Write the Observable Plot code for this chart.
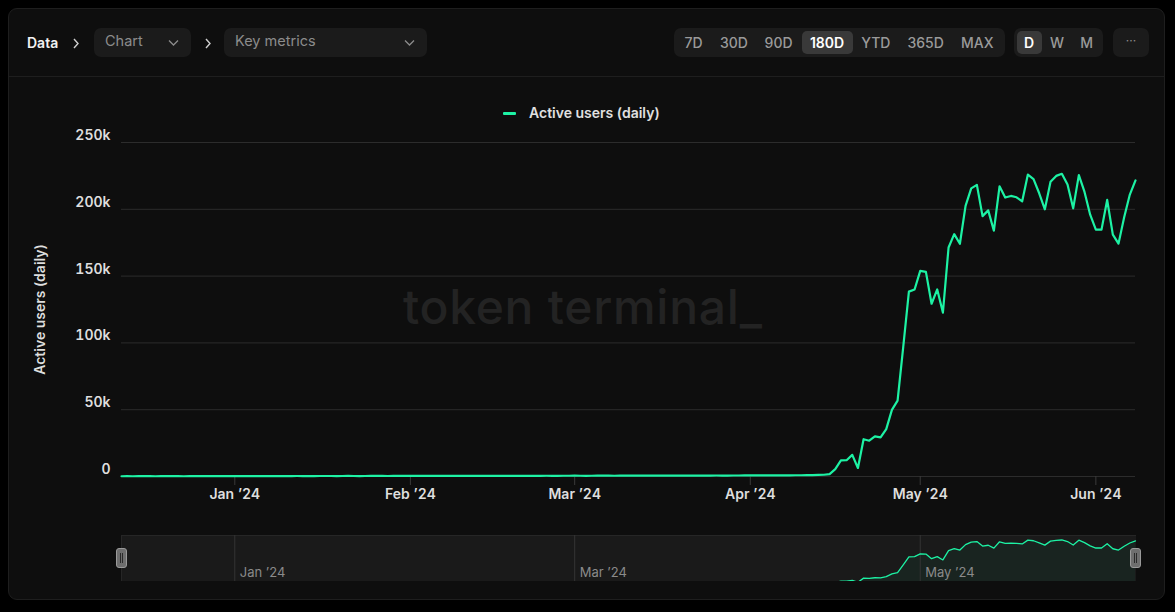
<!DOCTYPE html>
<html>
<head>
<meta charset="utf-8">
<script src="https://cdn.jsdelivr.net/npm/d3@7"></script>
<script src="https://cdn.jsdelivr.net/npm/@observablehq/plot@0.6"></script>
<style>
html,body{margin:0;padding:0;background:#000;}
body{width:1175px;height:612px;position:relative;overflow:hidden;font-family:Inter,"Noto Sans",sans-serif;}
.abs{position:absolute;}
.card{left:8px;top:8px;width:1157px;height:592px;background:#0e0e0e;border:1px solid #1e1e1e;border-radius:9px;box-sizing:border-box;}
.box{background:#1b1b1b;border-radius:7px;}
.hdr{font-size:14px;line-height:28px;}
.btn{position:absolute;top:0;line-height:29px;font-size:14px;font-weight:500;color:#9a9a9a;transform:translateX(-50%);white-space:nowrap;}
.sel{background:#393939;border-radius:5px;}
.handle{width:9px;height:18px;background:#6e6e6e;border:1px solid #9a9a9a;border-radius:3px;}
.handle:before,.handle:after{content:"";position:absolute;top:4px;width:1px;height:10px;background:#2a2a2a;}
.handle:before{left:3px}.handle:after{left:5px}
</style>
</head>
<body>
<div class="abs card"></div>
<!-- header -->
<div class="abs hdr" style="left:27px;top:29px;color:#f2f2f2;font-weight:600;">Data</div>
<svg class="abs" style="left:72px;top:38px" width="8" height="11"><polyline points="2,1 6,5.5 2,10" fill="none" stroke="#d0d0d0" stroke-width="1.4"/></svg>
<div class="abs box" style="left:94px;top:28px;width:97px;height:29px;"></div>
<div class="abs hdr" style="left:105px;top:27px;color:#8c8c8c;font-size:14.5px;">Chart</div>
<svg class="abs" style="left:168px;top:39px" width="12" height="8"><polyline points="1,1.5 5.5,6 10,1.5" fill="none" stroke="#8c8c8c" stroke-width="1.3"/></svg>
<svg class="abs" style="left:204px;top:38px" width="8" height="11"><polyline points="2,1 6,5.5 2,10" fill="none" stroke="#d0d0d0" stroke-width="1.4"/></svg>
<div class="abs box" style="left:224px;top:28px;width:203px;height:29px;"></div>
<div class="abs hdr" style="left:235px;top:27px;color:#8c8c8c;font-size:14.5px;">Key metrics</div>
<svg class="abs" style="left:404px;top:39px" width="12" height="8"><polyline points="1,1.5 5.5,6 10,1.5" fill="none" stroke="#8c8c8c" stroke-width="1.3"/></svg>

<div class="abs box" id="rangeGroup" style="left:674px;top:28px;width:331px;height:29px;"></div>
<div class="abs box" id="freqGroup" style="left:1014px;top:28px;width:89px;height:29px;"></div>
<div class="abs box" style="left:1113px;top:28px;width:36px;height:29px;"></div>
<div class="abs" style="left:1113px;top:28px;width:36px;line-height:26px;text-align:center;color:#8c8c8c;font-size:12px;letter-spacing:0px;">···</div>
<div class="abs" style="left:9px;top:76px;width:1155px;height:1px;background:#1e1e1e;"></div>

<!-- legend -->
<div class="abs" style="left:503px;top:112px;width:13px;height:3px;background:#1df2a4;border-radius:1px;"></div>
<div class="abs" id="legendText" style="left:529px;top:104px;font-size:14px;font-weight:600;color:#e0e0e0;line-height:18px;"></div>

<!-- watermark -->
<div class="abs" style="left:403px;top:278px;font-size:48px;font-weight:500;color:#232323;line-height:58px;letter-spacing:0.7px;white-space:nowrap;">token terminal_</div>

<div class="abs" id="main" style="left:0;top:130px;"></div>

<div class="abs" style="left:121px;top:535px;width:1015px;height:46px;background:#1a1a1a;border-top:1px solid #262626;border-left:1px solid #262626;box-sizing:border-box;"></div>
<div class="abs" id="nav" style="left:0;top:535px;width:1175px;height:46px;overflow:hidden;"></div>
<div class="abs handle" style="left:116px;top:548px;"></div>
<div class="abs handle" style="left:1130px;top:548px;"></div>

<script>
// ---- data ----
const seriesName = "Active users (daily)";
const startDate = "2023-12-12";
const decValues = [180,210,190,230,250,220,200,240,260,230,210,190,220,250,270,240,230,260,280,250];
const janValues = [270,300,320,290,280,310,330,350,320,300,340,360,330,310,350,370,390,360,340,380,400,370,350,390,410,430,400,380,420,440,410];
const febValues = [430,450,420,400,440,460,480,450,430,470,490,460,440,480,500,520,490,470,510,530,500,480,520,540,560,530,510,550,570];
const marValues = [590,560,540,580,600,620,590,570,610,630,650,620,600,640,660,680,650,630,670,690,710,680,660,700,720,740,710,690,730,750,770];
const aprValues = [800,780,820,850,830,870,900,880,920,950,1000,1050,1150,1300,
  1800,5500,12000,12200,16200,6400,27900,26800,30000,29300,35500,49900,56800,97000,138400,140000];
const mayValues = [153900,153200,129300,140000,122700,171400,181400,174200,202500,215700,218300,194900,199200,184000,217200,208800,210000,209000,206000,226000,222600,212000,200000,220600,225000,226600,218600,200700,225600,213000,196000];
const junValues = [184800,184800,207000,181000,174300,194000,211000,221600];

const yTicks = [0,50000,100000,150000,200000,250000];
const yTickLabels = ["0","50k","100k","150k","200k","250k"];
const monthTickDates = ["2024-01-01","2024-02-01","2024-03-01","2024-04-01","2024-05-01","2024-06-01"];
const monthTickLabels = ["Jan \u201924","Feb \u201924","Mar \u201924","Apr \u201924","May \u201924","Jun \u201924"];
const navTickDates = ["2024-01-01","2024-03-01","2024-05-01"];
const navTickLabels = ["Jan \u201924","Mar \u201924","May \u201924"];
const rangeButtons = ["7D","30D","90D","180D","YTD","365D","MAX"];
const freqButtons = ["D","W","M"];

// ---- header buttons ----
const rangeCenters = [19.5,60,104.6,153,201.8,251.6,303.3];
const rg = document.getElementById("rangeGroup");
rangeButtons.forEach((b,i)=>{
  if(b==="180D"){const s=document.createElement("div");s.className="abs sel";s.style.cssText="left:128px;top:3px;width:51px;height:23px;";rg.appendChild(s);}
  const e=document.createElement("div");e.className="btn";e.textContent=b;e.style.left=rangeCenters[i]+"px";
  if(b==="180D"){e.style.color="#ffffff";e.style.fontWeight="600";}
  rg.appendChild(e);
});
const freqCenters = [15,43,72.6];
const fg = document.getElementById("freqGroup");
freqButtons.forEach((b,i)=>{
  if(b==="D"){const s=document.createElement("div");s.className="abs sel";s.style.cssText="left:3px;top:3px;width:25px;height:23px;";fg.appendChild(s);}
  const e=document.createElement("div");e.className="btn";e.textContent=b;e.style.left=freqCenters[i]+"px";
  if(b==="D"){e.style.color="#ffffff";e.style.fontWeight="600";}
  fg.appendChild(e);
});
document.getElementById("legendText").textContent = seriesName;

// ---- build table ----
const values = [].concat(decValues,janValues,febValues,marValues,aprValues,mayValues,junValues);
const t0 = new Date(startDate + "T00:00:00Z");
const data = values.map((v,i)=>({date:d3.utcDay.offset(t0,i), value:v}));
const xDomain = [data[0].date, data[data.length-1].date];
const monthTicks = monthTickDates.map(s=>new Date(s+"T00:00:00Z"));
const navTicks = navTickDates.map(s=>new Date(s+"T00:00:00Z"));
const green = "#1df2a4";

const main = Plot.plot({
  width:1175, height:380,
  marginLeft:121, marginRight:40, marginTop:12, marginBottom:34,
  style:{background:"transparent", color:"#dedede", fontFamily:"Inter, sans-serif", fontSize:"14px", fontWeight:"600", overflow:"visible"},
  x:{type:"utc", domain:xDomain},
  y:{domain:[0,250000]},
  marks:[
    Plot.ruleY(yTicks, {stroke:"#2c2c2c", strokeWidth:1}),
    Plot.axisY({ticks:yTicks, tickSize:0, tickPadding:11, dy:-7,
      tickFormat:d=>yTickLabels[yTicks.indexOf(d)],
      label:seriesName, labelAnchor:"center", labelOffset:86, labelArrow:"none"}),
    Plot.axisX({ticks:monthTicks, tickSize:9, tickPadding:4, stroke:"#3a3a3a", fill:"#dedede",
      tickFormat:d=>monthTickLabels[monthTicks.findIndex(t=>+t===+d)], label:null}),
    Plot.lineY(data, {x:"date", y:"value", stroke:green, strokeWidth:2.2, strokeLinejoin:"round"})
  ]
});
document.getElementById("main").appendChild(main);

const nav = Plot.plot({
  width:1175, height:46,
  marginLeft:121, marginRight:40, marginTop:0, marginBottom:0,
  style:{background:"transparent", fontFamily:"Inter, sans-serif", fontSize:"13px", fontWeight:"400"},
  x:{type:"utc", domain:xDomain, axis:null},
  y:{domain:[0,250000], range:[48,0], axis:null},
  marks:[
    Plot.areaY(data, {x:"date", y:"value", fill:green, fillOpacity:0.05}),
    Plot.ruleX(navTicks, {stroke:"#343434"}),
    Plot.text(navTicks, {x:d=>d, frameAnchor:"top", lineAnchor:"middle", dy:37, dx:5, textAnchor:"start",
      text:(d,i)=>navTickLabels[i], fill:"#8a8a8a"}),
    Plot.lineY(data, {x:"date", y:"value", stroke:green, strokeWidth:1.3})
  ]
});
document.getElementById("nav").appendChild(nav);
</script>
</body>
</html>
